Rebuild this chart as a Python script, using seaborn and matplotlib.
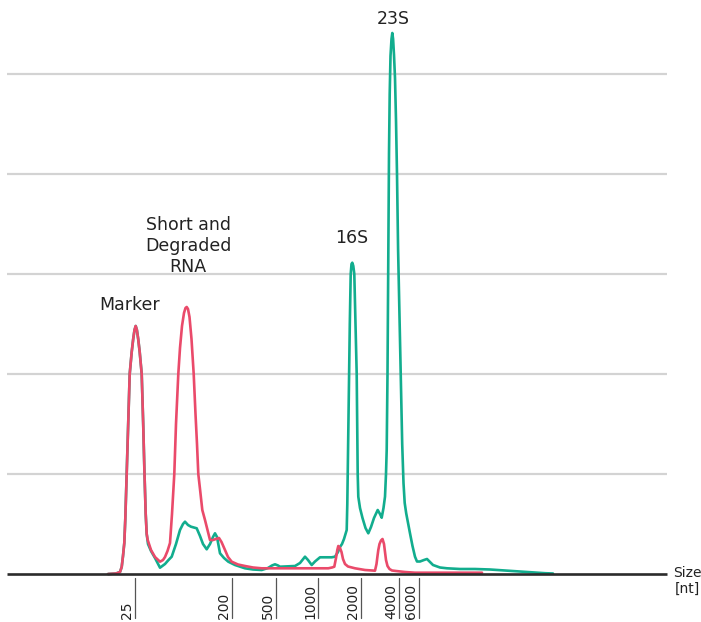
import matplotlib
matplotlib.use("Agg")
import matplotlib.pyplot as plt
import seaborn as sns
import pandas as pd

# ---- data (x = migration position, y = fluorescence) ----
rna_x = [108, 116, 120, 121.7, 123, 124.3, 125.3, 126.7, 128.2, 129.7, 131.7, 133.2, 134.5, 135.7, 136.9, 138.2,
         139.7, 141.7, 143.2, 144.5, 145.7, 146.7, 148, 151, 155, 160, 165, 168.5, 171.7, 176, 180, 183, 185,
         188, 191, 196.7, 200, 203, 206.7, 210, 213, 215, 217, 220, 224, 228.3, 235, 245, 253, 261.7, 268,
         272, 275, 278, 280, 285, 295, 300, 305, 308, 311.7, 315, 320, 326, 331.7, 335, 338, 340, 342, 344,
         345.5, 346.7, 347.3, 347.7, 348.4, 349, 349.8, 350.7, 351.5, 352.3, 353.3, 354.3, 355.5, 356.7,
         357.2, 357.7, 358.3, 360, 362.5, 365.5, 368.3, 371, 374, 377.7, 380, 381.7, 383.5, 385, 386, 386.7,
         387.5, 388.3, 389, 389.7, 390.5, 391.5, 392.3, 393.1, 394, 395, 396, 397, 398.1, 399.5, 400.9, 402.2,
         403.5, 404.7, 406.2, 408.2, 410, 412.5, 415, 417, 420, 424, 427, 430, 433, 440, 447, 460, 475, 490,
         505, 520, 535, 545, 553]
rna_y = [0, 0.5, 2, 7, 18, 31, 55, 100, 150, 200, 222, 235, 244, 248, 244, 235,
         222, 200, 150, 100, 60, 40, 30, 23, 16, 6.3, 10, 14, 17.3, 30, 44, 50, 52.3,
         49, 47.3, 45.7, 38, 30, 24.7, 30, 37, 40.7, 37, 20.7, 16, 12.3, 9, 5.7, 4.5, 4, 6,
         8.5, 9.7, 8.5, 7.3, 7.5, 8, 11, 17.3, 14, 9, 12.5, 16.7, 16.7, 16.7, 17.3, 22, 27, 30, 35,
         40, 44, 70, 100, 150, 200, 250, 300, 310, 311.3, 308, 300, 250, 200,
         150, 100, 77.3, 66, 56, 46, 40.7, 47, 56, 64, 60, 56.3, 66, 77.3, 100, 124,
         200, 324, 420, 480, 518, 535, 541, 535, 519, 496, 454, 400, 324, 258, 191, 130,
         91, 71, 60.7, 50, 40.7, 28, 17.3, 12.5, 12.5, 14, 15, 12, 9, 6.5, 5.7, 5, 5, 4.5,
         3.5, 2.5, 1.5, 0.8, 0.5]

deg_x = [108, 116, 120, 121.7, 123, 124.3, 125.3, 126.7, 128.2, 129.7, 131.7, 133.2, 134.5, 135.7, 136.9, 138.2,
         139.7, 141.7, 143.2, 144.5, 145.7, 146.7, 147.7, 151, 155, 160, 163, 165, 167.5, 170, 172, 174.3, 176,
         178.3, 180, 182, 184, 185.5, 186.7, 188, 189.5, 191.5, 193.7, 195.5, 197, 198.3, 200, 202.3, 205, 207.5,
         210, 213, 216, 219, 221.5, 225, 228, 231.7, 238, 245, 253, 261.7, 280, 295, 310, 328.3, 332,
         334.3, 336, 337.3, 338.3, 340, 341.5, 343, 345, 348, 355, 365, 375, 376.5, 377.5, 378.3, 379.5,
         381, 382.5, 384, 385, 386, 387.5, 389.5, 392, 396, 405, 415, 430, 450, 470, 482]
deg_y = [0, 0.5, 2, 7, 18, 31, 55, 100, 150, 200, 222, 235, 244, 248, 244, 235,
         222, 200, 150, 100, 60, 40, 34, 24, 17, 12.3, 14, 17, 23, 31, 60, 100, 150,
         200, 226, 248, 261, 266, 267, 265, 257, 235, 200, 160, 130, 100, 85, 64, 54, 44,
         34, 34, 35, 36, 32, 24, 17, 12.3, 9.5, 8, 6.5, 5.7, 5.7, 5.7, 5.7, 5.7, 6.5,
         7.3, 16, 24, 28, 26, 22, 15, 10, 7.5, 5.7, 4, 3.3, 10, 18, 24, 30,
         33.5, 35, 30, 22, 14, 8, 5, 3.5, 3, 2, 1.3, 1.3, 1.3, 1.3, 1.3]

ladder_sizes = ["25", "200", "500", "1000", "2000", "4000", "6000"]
ladder_pos = [135, 232, 276, 318, 361, 399, 419]

grid_levels = [100, 200, 300, 400, 500]

peak_labels = ["Marker", "Short and\nDegraded\nRNA", "16S", "23S"]
peak_label_x = [129.5, 188, 352, 393]
peak_label_y = [269, 328, 336, 555]

GREEN = "#12ad8e"
RED = "#ea4a6a"

sns.set_style("white")
plt.rcParams["font.family"] = ["DejaVu Sans"]

fig = plt.figure(figsize=(7.01, 6.22), dpi=100)
ax = fig.add_axes([0, 0, 1, 1])
ax.set_xlim(0, 701)
ax.set_ylim(-48, 574)
for s in ax.spines.values():
    s.set_visible(False)
ax.set_xticks([])
ax.set_yticks([])

x0, x1 = 7, 667
for g in grid_levels:
    ax.plot([x0, x1], [g, g], color="#d3d3d3", lw=1.6, zorder=1, solid_capstyle="butt")

df_rna = pd.DataFrame({"x": rna_x, "y": rna_y})
df_deg = pd.DataFrame({"x": deg_x, "y": deg_y})
sns.lineplot(data=df_rna, x="x", y="y", sort=False, estimator=None, color=GREEN, lw=1.9, ax=ax, zorder=3)
sns.lineplot(data=df_deg, x="x", y="y", sort=False, estimator=None, color=RED, lw=1.9, ax=ax, zorder=4)

ax.plot([x0, x1], [0, 0], color="#2b2b2b", lw=1.9, zorder=5, solid_capstyle="butt")

for lab, p in zip(ladder_sizes, ladder_pos):
    ax.plot([p, p], [-4, -44], color="#555555", lw=0.9, zorder=5)
    ax.text(p - 1, -45, lab, rotation=90, ha="right", va="bottom", fontsize=10, color="#222222")

for lab, lx, ly in zip(peak_labels, peak_label_x, peak_label_y):
    ax.text(lx, ly, lab, ha="center", va="center", fontsize=12.5, color="#222222", linespacing=1.22)

ax.text(687, -7, "Size\n[nt]", ha="center", va="center", fontsize=10, color="#222222", linespacing=1.2)

ax.set_xlabel("")
ax.set_ylabel("")
fig.savefig("out.png", dpi=100)
